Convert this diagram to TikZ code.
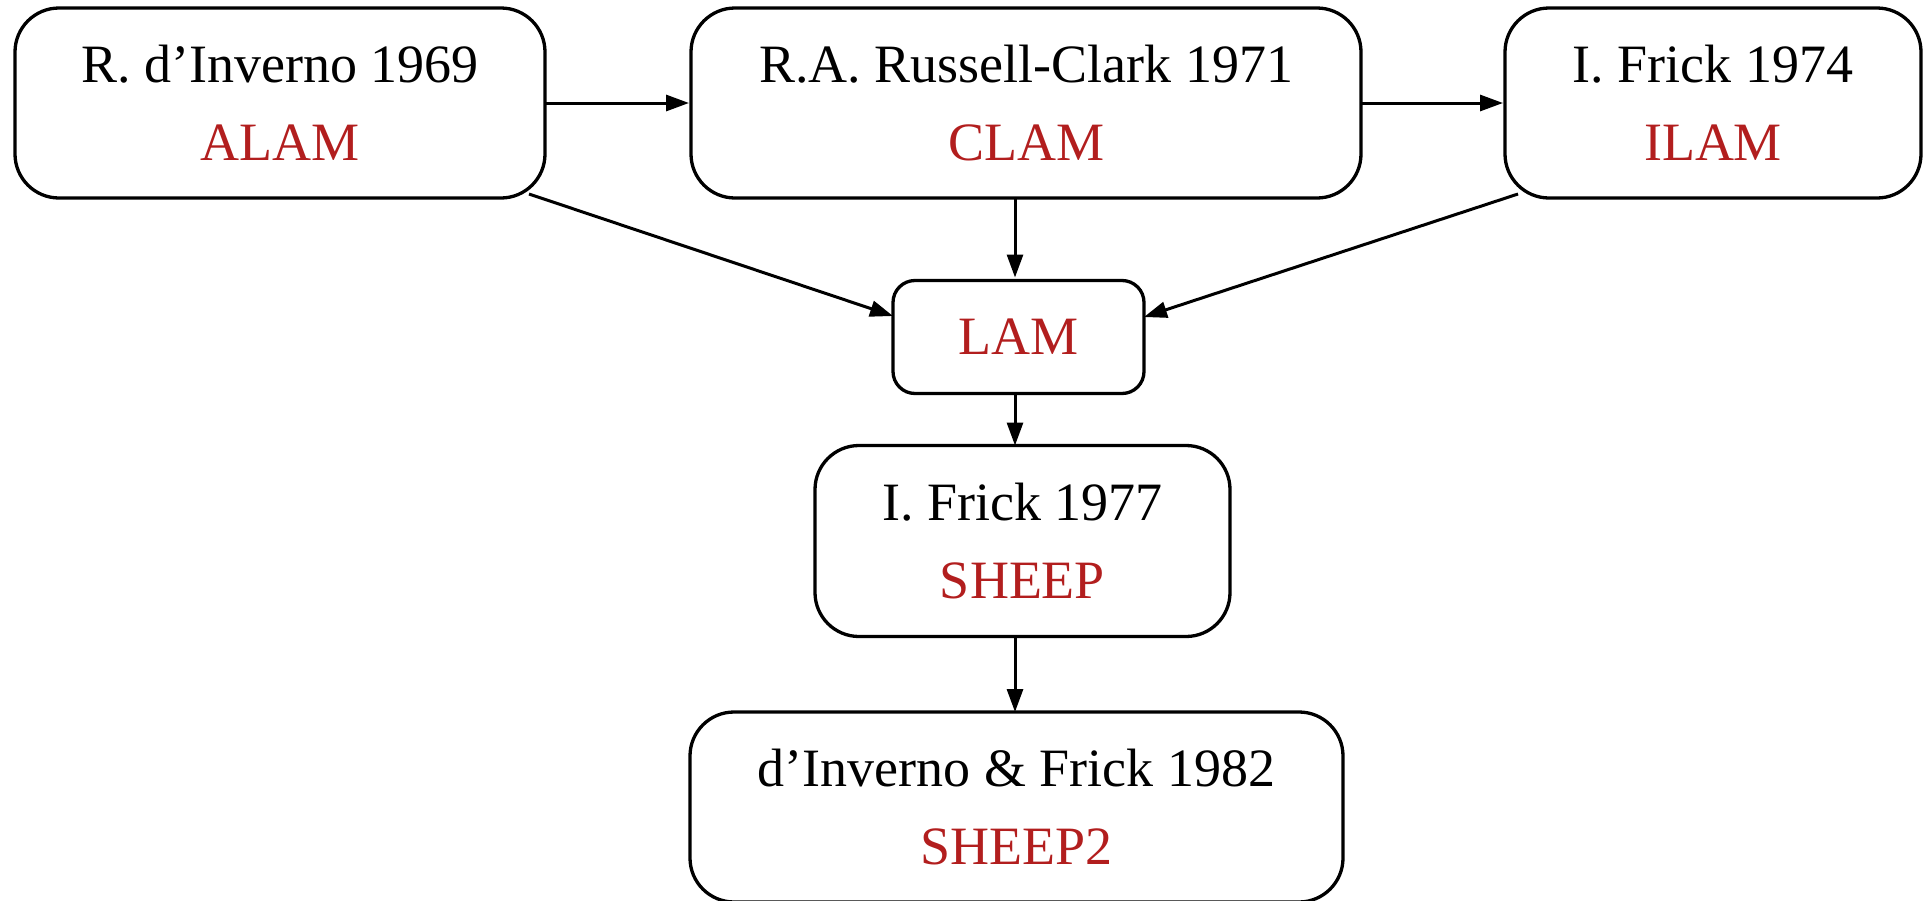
\documentclass[tikz,border=0pt]{standalone}
\usepackage{fontspec}
\setmainfont{Liberation Serif}
\usetikzlibrary{arrows.meta}
\definecolor{progred}{RGB}{178,30,30}
\begin{document}
\begin{tikzpicture}[x=1pt,y=-1pt,
  box/.style={draw=black,line width=3.3pt,rounded corners=44pt,
    inner sep=0pt,outer sep=0pt,align=center,
    font=\fontsize{54}{78}\selectfont},
  smallbox/.style={box,rounded corners=22pt},
  link/.style={line width=3pt,-{Triangle[length=23pt,width=16pt]}},
  prog/.style={text=progred}]
\useasboundingbox (0,0) rectangle (1928,900);
\clip (0,0) rectangle (1928,900);

% systems and their authors
\node[box,minimum width=530pt,minimum height=190pt] (A) at (280,103)
  {R. d'Inverno 1969\\\textcolor{progred}{ALAM}};
\node[box,minimum width=670pt,minimum height=190pt] (C) at (1026,103)
  {R.A. Russell-Clark 1971\\\textcolor{progred}{CLAM}};
\node[box,minimum width=416pt,minimum height=190pt] (I) at (1713,103)
  {I. Frick 1974\\\textcolor{progred}{ILAM}};
\node[smallbox,prog,minimum width=251pt,minimum height=113pt] (L) at (1018.5,337)
  {LAM};
\node[box,minimum width=415pt,minimum height=191pt] (S) at (1022.5,541)
  {I. Frick 1977\\\textcolor{progred}{SHEEP}};
\node[box,minimum width=653pt,minimum height=190pt] (S2) at (1016.5,807)
  {d'Inverno \& Frick 1982\\\textcolor{progred}{SHEEP2}};

% common vertical line of descent
\coordinate (axis) at (1015,0);

% lineage
\draw[link,shorten >=2pt] (A.east) -- (C.west);
\draw[link,shorten >=2pt] (C.east) -- (I.west);
\draw[link] ([xshift=-16pt,yshift=4pt]A.south east) -- ([yshift=21pt]L.west);
\draw[link] ([xshift=13pt,yshift=4pt]I.south west) -- ([yshift=20pt]L.east);
\draw[link,shorten >=3pt] (C.south -| axis) -- (L.north -| axis);
\draw[link] (L.south -| axis) -- (S.north -| axis);
\draw[link] (S.south -| axis) -- (S2.north -| axis);
\end{tikzpicture}
\end{document}
